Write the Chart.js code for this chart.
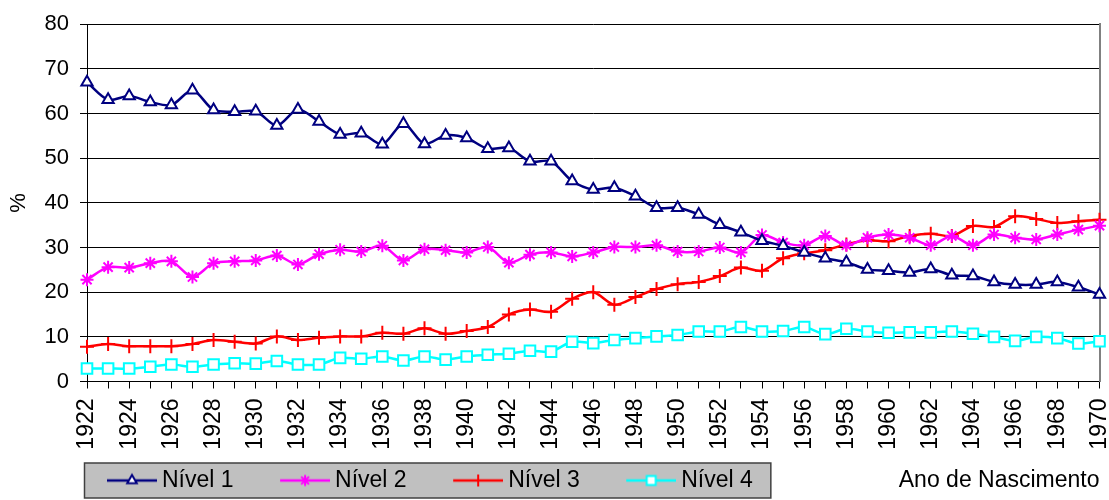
<!DOCTYPE html>
<html><head><meta charset="utf-8">
<script src="https://cdn.jsdelivr.net/npm/chart.js@4/dist/chart.umd.min.js"></script>
<style>html,body{margin:0;padding:0;background:#fff}canvas{display:block}</style>
</head><body>
<canvas id="c" width="1109" height="500"></canvas>
<script>
const years = [1922,1923,1924,1925,1926,1927,1928,1929,1930,1931,
  1932,1933,1934,1935,1936,1937,1938,1939,1940,1941,
  1942,1943,1944,1945,1946,1947,1948,1949,1950,1951,
  1952,1953,1954,1955,1956,1957,1958,1959,1960,1961,
  1962,1963,1964,1965,1966,1967,1968,1969,1970];
const nivel1 = [67.0,63.1,63.9,62.6,61.9,65.2,60.8,60.4,60.5,57.3,
  60.9,58.2,55.3,55.6,53.1,57.7,53.2,55.1,54.5,52.1,
  52.3,49.3,49.3,44.9,43.0,43.4,41.5,38.9,38.9,37.4,
  35.1,33.4,31.5,30.4,28.9,27.6,26.7,25.1,24.8,24.4,
  25.2,23.8,23.6,22.3,21.7,21.7,22.3,21.1,19.5];
const nivel2 = [22.8,25.6,25.5,26.5,26.9,23.4,26.5,26.9,27.1,28.2,
  26.2,28.5,29.5,29.1,30.4,27.1,29.6,29.4,28.9,30.1,
  26.6,28.4,28.9,28.0,28.9,30.1,30.1,30.5,29.1,29.1,
  30.0,28.9,32.8,31.1,30.5,32.6,30.5,32.2,32.9,32.2,
  30.5,32.6,30.5,32.9,32.2,31.8,32.9,34.0,34.9];
const nivel3 = [7.8,8.4,7.9,7.9,7.9,8.4,9.3,8.9,8.5,10.1,
  9.3,9.8,10.1,10.1,10.9,10.7,11.9,10.7,11.3,12.2,
  15.0,16.1,15.6,18.5,20.0,17.2,18.9,20.7,21.8,22.3,
  23.6,25.5,24.8,27.6,28.7,29.4,30.7,31.6,31.4,32.6,
  33.1,32.6,34.8,34.6,37.0,36.4,35.5,35.9,36.2];
const nivel4 = [2.9,2.9,2.9,3.3,3.8,3.3,3.8,4.1,4.0,4.6,
  3.8,3.8,5.3,5.1,5.6,4.7,5.6,4.9,5.6,6.0,
  6.2,6.9,6.7,8.9,8.6,9.3,9.7,10.1,10.4,11.2,
  11.2,12.2,11.2,11.3,12.2,10.6,11.8,11.2,10.9,11.0,
  11.0,11.2,10.7,10.0,9.1,10.0,9.7,8.5,9.0];
const seriesNames = ['Nível 1','Nível 2','Nível 3','Nível 4'];
const seriesColors = ['#000080','#FF00FF','#FF0000','#00FFFF'];
const xTitle = 'Ano de Nascimento';
const yTitle = '%';

const FONT = "'Liberation Sans', Arial, sans-serif";
const seriesData = [nivel1, nivel2, nivel3, nivel4];
const markers = [
  {pointStyle:'triangle', radius:6.5, fill:'#ffffff'},
  {pointStyle:'star', radius:6.5, fill:'#FF00FF'},
  {pointStyle:'cross', radius:7, fill:'#FF0000'},
  {pointStyle:'rect', radius:7.5, fill:'#ffffff'}
];

function legendSymbol(color, m) {
  const c = document.createElement('canvas');
  c.width = 93; c.height = 20;
  const ctx = c.getContext('2d');
  ctx.strokeStyle = color; ctx.lineWidth = 2.5;
  ctx.beginPath(); ctx.moveTo(43, 10); ctx.lineTo(93, 10); ctx.stroke();
  ctx.fillStyle = m.fill; ctx.lineWidth = 2;
  Chart.helpers.drawPoint(ctx, {pointStyle: m.pointStyle, rotation: 0, radius: m.radius * 0.85, borderWidth: 2}, 68, 10);
  return c;
}
const legendSymbols = seriesColors.map((c, i) => legendSymbol(c, markers[i]));

const legendBoxPlugin = {
  id: 'legendBox',
  afterLayout(chart) {
    const lg = chart.legend;
    lg.left = 60.5; lg.right = chart.width;
    lg.top = 459; lg.bottom = chart.height;
  },
  beforeDraw(chart) {
    const ctx = chart.ctx, lg = chart.legend;
    ctx.save();
    ctx.fillStyle = '#fff'; ctx.fillRect(0, 0, chart.width, chart.height);
    const hb = lg.legendHitBoxes, last = hb[hb.length - 1];
    const x1 = lg.left + 24, x2 = last.left + last.width + 18;
    const y1 = lg.top + 4, y2 = lg.top + 39;
    ctx.fillStyle = '#c0c0c0'; ctx.fillRect(x1, y1, x2 - x1, y2 - y1);
    ctx.strokeStyle = '#404040'; ctx.lineWidth = 1.5; ctx.strokeRect(x1, y1, x2 - x1, y2 - y1);
    ctx.restore();
  }
};

new Chart(document.getElementById('c'), {
  type: 'line',
  data: {
    labels: years,
    datasets: seriesData.map((d, i) => ({
      label: seriesNames[i], data: d,
      borderColor: seriesColors[i], backgroundColor: markers[i].fill,
      borderWidth: 2.5, tension: 0.3, fill: false,
      pointStyle: markers[i].pointStyle, pointRadius: markers[i].radius,
      pointBorderWidth: 2, pointBackgroundColor: markers[i].fill, pointBorderColor: seriesColors[i]
    }))
  },
  options: {
    responsive: false, animation: false, devicePixelRatio: 1,
    layout: {padding: {top: 17.5, right: 8, left: 0, bottom: 0}},
    plugins: {
      legend: {
        position: 'bottom', align: 'start',
        labels: {
          usePointStyle: true, pointStyleWidth: 80, padding: 10, color: '#000',
          font: {family: FONT, size: 23},
          generateLabels: chart => chart.data.datasets.map((ds, i) => ({
            text: ds.label, pointStyle: legendSymbols[i], fillStyle: 'transparent',
            strokeStyle: 'transparent', lineWidth: 0, hidden: !chart.isDatasetVisible(i),
            datasetIndex: i, fontColor: '#000'
          }))
        }
      },
      tooltip: {enabled: false}
    },
    scales: {
      x: {
        type: 'category', offset: false,
        grid: {display: true, drawOnChartArea: false, drawTicks: true, tickLength: 7, color: '#000', lineWidth: 1},
        border: {color: '#000', width: 1},
        ticks: {autoSkip: false, minRotation: 90, maxRotation: 90, padding: 10, color: '#000',
          font: {family: FONT, size: 23}, callback: (v, i) => i % 2 === 0 ? String(years[i]) : ''},
        title: {display: true, text: xTitle, align: 'end', color: '#000',
          font: {family: FONT, size: 23}, padding: {top: 0, bottom: -37}},
        afterFit: s => { s.height = 75.5; s.paddingRight = 0; s.paddingLeft = 0; }
      },
      y: {
        min: 0, max: 80,
        ticks: {stepSize: 10, padding: 11, color: '#000', font: {family: FONT, size: 22}},
        grid: {color: '#000', lineWidth: 1, tickLength: 7},
        border: {color: '#000', width: 1},
        title: {display: true, text: yTitle, color: '#000', font: {family: FONT, size: 22}, padding: {top: 6, bottom: 0}},
        afterFit: s => { s.width = 87; }
      },
      y2: {
        position: 'right', display: true,
        grid: {drawOnChartArea: false, drawTicks: false},
        ticks: {display: false},
        border: {color: '#808080', width: 2},
        afterFit: s => { s.width = 0; }
      }
    }
  },
  plugins: [legendBoxPlugin]
});
</script>
</body></html>
